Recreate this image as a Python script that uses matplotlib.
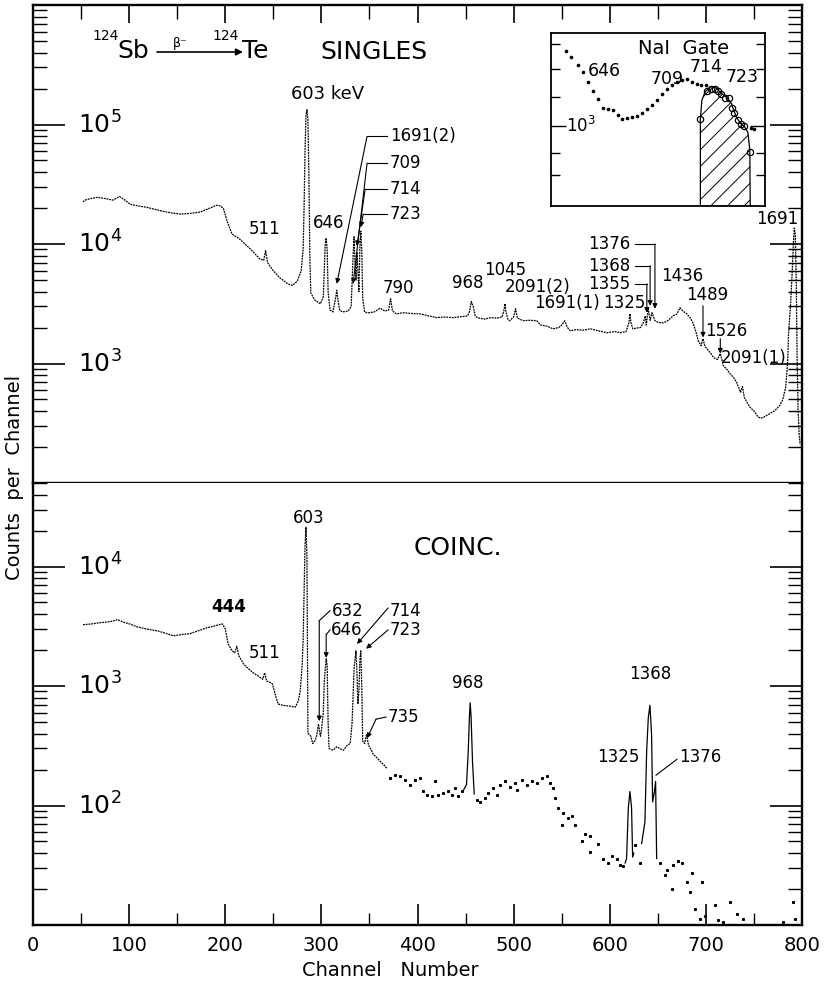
import matplotlib
matplotlib.use("Agg")
import matplotlib.pyplot as plt
from matplotlib.ticker import LogLocator, NullFormatter, FixedLocator

plt.rcParams["font.family"] = "DejaVu Sans"
plt.rcParams["hatch.linewidth"] = 0.7

# singles spectrum (channel, counts per channel)
sing_ch = [52, 54, 60, 67, 75, 83, 88, 90, 95, 101,
           110, 118, 127, 135, 144, 153, 163, 174, 183, 191,
           195, 198, 202, 207, 215, 226, 236, 240, 242, 244,
           250, 257, 265, 270, 275, 279, 281, 282, 283, 284,
           285, 286, 287, 288, 289, 293, 299, 302, 303, 304,
           305, 306, 307, 309, 312, 315, 316, 317, 319, 322,
           328, 331, 333, 334, 335, 336, 337, 338, 339, 340,
           341, 342, 343, 345, 348, 355, 361, 366, 370, 372,
           374, 378, 385, 394, 403, 412, 420, 428, 437, 445,
           452, 454, 456, 458, 460, 462, 470, 476, 483, 488,
           490, 491, 492, 494, 496, 500, 502, 504, 510, 517,
           524, 528, 535, 541, 547, 550, 553, 556, 559, 565,
           572, 580, 588, 597, 605, 611, 617, 620, 621, 622,
           624, 628, 632, 635, 637, 638, 640, 642, 644, 647,
           651, 656, 661, 666, 670, 673, 676, 680, 684, 687,
           690, 692, 695, 697, 699, 701, 705, 708, 712, 715,
           717, 718, 722, 725, 729, 732, 736, 738, 740, 743,
           746, 750, 754, 757, 760, 764, 767, 771, 774, 777,
           780, 783, 785, 786, 788, 790, 791, 792, 793, 794,
           795, 796, 797, 798]
sing_cts = [22500, 23300, 24000, 24600, 24000, 23300, 24500, 25000, 23500, 21500,
            20800, 20300, 19500, 18800, 18200, 17800, 18000, 18500, 19800, 21100,
            20800, 19900, 15500, 12100, 11000, 9100, 7500, 7300, 8800, 7000,
            5960, 5200, 4640, 4500, 4900, 6000, 9000, 20000, 60000, 120000,
            133000, 110000, 40000, 8000, 3900, 3400, 3160, 3600, 6000, 10000,
            11200, 9000, 4000, 2800, 2700, 3600, 4100, 3500, 2800, 2700,
            2750, 3000, 8000, 11500, 7000, 5000, 8500, 6000, 4000, 9000,
            12800, 9000, 3500, 2700, 2650, 2700, 2900, 2750, 2800, 3480,
            2750, 2600, 2660, 2620, 2600, 2500, 2420, 2450, 2420, 2460,
            2500, 2700, 3300, 3000, 2500, 2420, 2350, 2420, 2400, 2450,
            2800, 3160, 2700, 2350, 2280, 2450, 2870, 2400, 2280, 2300,
            2280, 2100, 2050, 1950, 2000, 2100, 2280, 2000, 1880, 1920,
            1900, 1950, 1880, 1810, 1850, 1810, 1850, 2200, 2610, 2200,
            1950, 1980, 2000, 2200, 2500, 2100, 2870, 2300, 2660, 2280,
            2200, 2190, 2300, 2510, 2600, 2930, 2750, 2610, 2400, 2150,
            1800, 1550, 1410, 1610, 1400, 1330, 1220, 1120, 1080, 1210,
            1050, 960, 890, 826, 760, 694, 575, 640, 520, 470,
            430, 400, 360, 348, 355, 370, 383, 400, 420, 447,
            500, 630, 1000, 1780, 3000, 6300, 10000, 13600, 12000, 5000,
            1000, 400, 261, 210]

# coincidence spectrum, continuous part
coin_ch = [52, 60, 70, 80, 88, 95, 101, 108, 118, 129,
           137, 146, 155, 163, 172, 181, 190, 197, 200, 203,
           207, 210, 212, 214, 219, 224, 229, 235, 239, 241,
           243, 246, 249, 252, 255, 260, 266, 273, 276, 278,
           280, 281, 282, 283, 284, 285, 286, 289, 291, 293,
           295, 297, 299, 300, 302, 303, 305, 306, 307, 308,
           312, 316, 319, 323, 327, 330, 332, 334, 336, 337,
           338, 339, 340, 341, 342, 343, 345, 347, 349, 352,
           354, 358, 362, 366, 368]
coin_cts = [3260, 3300, 3390, 3450, 3590, 3400, 3300, 3130, 3000, 2900,
            2780, 2630, 2700, 2740, 2900, 3070, 3200, 3310, 3010, 2250,
            1970, 1900, 2150, 1800, 1530, 1400, 1290, 1200, 1140, 1290,
            1100, 1080, 1040, 850, 706, 690, 680, 667, 750, 907,
            1500, 2390, 6000, 15000, 21300, 12000, 403, 380, 330, 345,
            380, 480, 380, 420, 600, 1100, 1690, 1500, 500, 300,
            290, 310, 300, 290, 320, 330, 500, 1400, 1970, 1300,
            706, 900, 1600, 1970, 1000, 345, 330, 395, 320, 290,
            268, 250, 230, 215, 205]

# coincidence spectrum, scattered points above channel 370
dot_ch = [371.5, 376.7, 381.9, 387.1, 392.3, 397.5, 402.7, 406.2, 409.6, 414.8,
          418.3, 421.7, 426.9, 432.1, 435.6, 439.1, 442.5, 446.0, 461.6, 465.1,
          470.3, 473.8, 479.0, 482.4, 485.9, 491.1, 496.3, 501.5, 503.2, 508.4,
          513.6, 518.8, 524.0, 529.2, 534.4, 537.8, 541.3, 543.0, 546.5, 550.0,
          551.7, 556.9, 560.4, 563.8, 570.8, 574.2, 579.4, 579.4, 588.1, 593.3,
          598.5, 601.9, 607.2, 610.6, 614.1, 626.2, 631.4, 652.3, 657.5, 659.2,
          664.4, 666.2, 671.4, 674.8, 680.0, 683.5, 685.2, 688.7, 693.9, 695.6,
          699.1, 709.5, 713.0, 718.2, 725.1, 732.1, 739.0, 780.6, 791.0, 792.8]
dot_cts = [169, 181, 175, 164, 149, 164, 169, 131, 123, 119,
           159, 123, 127, 131, 123, 140, 119, 131, 112, 108,
           115, 127, 140, 123, 149, 159, 144, 154, 135, 164,
           149, 159, 154, 169, 175, 154, 140, 115, 95, 69,
           86, 78, 81, 69, 50, 58, 56, 41, 48, 36,
           33, 38, 36, 32, 31, 47, 33, 33, 26, 29,
           20, 32, 34, 33, 23, 19, 27, 13.7, 11.3, 23,
           12, 14.6, 11, 10.6, 15.6, 12.4, 11.3, 10.6, 15.6, 11.3]

# coincidence peaks drawn as solid lines
c968_ch = [448, 451, 452.8, 454.0, 454.8, 455.8, 457.2, 459]
c968_cts = [135, 150, 285, 542, 724, 542, 235, 125]
c1325_ch = [616, 617.5, 619.3, 621.0, 622.7, 623.8, 625]
c1325_cts = [33, 36, 95, 131, 95, 37, 40]
c1368_ch = [633.2, 636.6, 638.4, 640.1, 641.8, 643.5, 644.6, 646.3, 647.7, 648.8]
c1368_cts = [48, 73, 285, 542, 690, 393, 107, 128, 159, 36]

# inset: NaI gate spectrum (arbitrary x units)
gate_x = [6.8, 9.5, 12.6, 14.9, 17.2, 19.5, 21.8, 24.2, 26.5, 28.8,
          31.1, 33.4, 35.7, 38.0, 40.3, 42.6, 44.9, 47.2, 49.5, 51.8,
          54.2, 56.5, 58.8, 61.1, 63.4, 65.7, 68.0, 70.3, 72.6, 93.4, 95.0]
gate_y = [1897, 1804, 1689, 1585, 1454, 1352, 1259, 1172, 1155, 1148,
          1106, 1065, 1074, 1084, 1096, 1122, 1155, 1196, 1252, 1314,
          1372, 1421, 1454, 1483, 1496, 1462, 1432, 1421, 1421, 990, 980]
circ_x = [69.8, 73.1, 74.9, 76.5, 78.0, 79.5, 81.5, 83.4, 84.5, 85.7, 87.2, 88.8, 90.3, 92.9]
circ_y = [1065, 1352, 1380, 1380, 1352, 1314, 1277, 1277, 1172, 1122, 1059, 1020, 1000, 806]
win_x = [69.8, 69.8, 70.5, 72.0, 74.5, 77.0, 79.5, 82.0, 84.2, 85.5, 87.0, 88.5, 90.5, 92.0, 92.9, 93.1]
win_y = [508, 1065, 1250, 1340, 1400, 1390, 1330, 1280, 1220, 1140, 1070, 1030, 995, 950, 820, 508]

W, H = 827, 984
fig = plt.figure(figsize=(W / 100, H / 100), dpi=100)


def fx(px):
    return px / W


def fy(py):
    return 1 - py / H


ax1 = fig.add_axes([fx(33), fy(483), (802 - 33) / W, (483 - 5) / H])
ax2 = fig.add_axes([fx(33), fy(925), (802 - 33) / W, (925 - 483) / H])

for ax in (ax1, ax2):
    ax.set_yscale("log")
    ax.set_xlim(0, 800)
    for sp in ax.spines.values():
        sp.set_linewidth(1.7)
    ax.yaxis.set_minor_locator(LogLocator(base=10, subs=range(2, 10), numticks=20))
    ax.yaxis.set_minor_formatter(NullFormatter())
    ax.tick_params(axis="y", which="major", direction="in", length=23, width=1.2,
                   left=True, right=True, labelleft=False)
    ax.tick_params(axis="y", which="minor", direction="in", length=10, width=1.0,
                   left=True, right=True)
    ax.set_xticks(range(0, 801, 100))
    ax.set_xticks(range(50, 800, 100), minor=True)

ax1.set_ylim(100, 1e6)
ax1.set_yticks([1e3, 1e4, 1e5])
ax2.set_ylim(10, 5e4)
ax2.set_yticks([1e2, 1e3, 1e4])
ax2.spines["top"].set_visible(False)

ax1.tick_params(axis="x", which="major", direction="in", length=13, width=1.2,
                top=True, bottom=False, labelbottom=False)
ax1.tick_params(axis="x", which="minor", direction="in", length=10, width=1.0,
                top=True, bottom=False)
ax2.tick_params(axis="x", which="major", direction="in", length=15, width=1.2,
                top=False, bottom=True, labelsize=14, pad=8)
ax2.tick_params(axis="x", which="minor", direction="in", length=9, width=1.0,
                top=False, bottom=True)


def ylab(ax, val, e):
    ax.annotate(r"$\mathregular{10^{%d}}$" % e, xy=(0, val),
                xycoords=("axes fraction", "data"), xytext=(45, -9),
                textcoords="offset pixels", fontsize=18, ha="left", va="baseline")


for e in (3, 4, 5):
    ylab(ax1, 10 ** e, e)
for e in (2, 3, 4):
    ylab(ax2, 10 ** e, e)

dotted = (0, (1.5, 0.7))
ax1.plot(sing_ch, sing_cts, color="k", lw=0.9, ls=dotted)
ax2.plot(coin_ch, coin_cts, color="k", lw=0.9, ls=dotted)
ax2.plot(dot_ch, dot_cts, ls="none", marker="s", ms=1.2, color="k")
for pc, pv in ((c968_ch, c968_cts), (c1325_ch, c1325_cts), (c1368_ch, c1368_cts)):
    ax2.plot(pc, pv, color="k", lw=0.9)


def lead(ax, x0, y0, x1, y1, head=True):
    ax.annotate("", xy=(x1, y1), xytext=(x0, y0),
                arrowprops=dict(arrowstyle="-|>" if head else "-", color="k", lw=0.8,
                                mutation_scale=7, shrinkA=0, shrinkB=0))


def seg(ax, xs, ys):
    ax.plot(xs, ys, color="k", lw=0.8)


fs = 12
# singles labels
ax1.text(306, 181000, "603 keV", fontsize=13, ha="center", va="center")
ax1.text(241, 13300, "511", fontsize=fs, ha="center", va="center")
ax1.text(308, 15000, "646", fontsize=fs, ha="center", va="center")
for txt, yv, cx, tx, ty in (("1691(2)", 79400, 347.5, 316, 4640),
                            ("709", 47300, 347.5, 333, 4640),
                            ("714", 28700, 345.5, 337, 9600),
                            ("723", 17800, 343.5, 341, 13800)):
    ax1.text(371.5, yv, txt, fontsize=fs, ha="left", va="center")
    seg(ax1, [cx, 368.4], [yv, yv])
    lead(ax1, cx, yv, tx, ty)
ax1.text(380, 4300, "790", fontsize=fs, ha="center", va="center")
ax1.text(452, 4730, "968", fontsize=fs, ha="center", va="center")
ax1.text(491, 6070, "1045", fontsize=fs, ha="center", va="center")
ax1.text(525, 4380, "2091(2)", fontsize=fs, ha="center", va="center")
ax1.text(556, 3220, "1691(1)", fontsize=fs, ha="center", va="center")
ax1.text(615, 3220, "1325", fontsize=fs, ha="center", va="center")
for txt, yv, vx, ty in (("1376", 10000, 647, 2870),
                        ("1368", 6560, 642, 3040),
                        ("1355", 4640, 638.6, 2660)):
    ax1.text(621, yv, txt, fontsize=fs, ha="right", va="center")
    seg(ax1, [626.5, vx], [yv, yv])
    lead(ax1, vx, yv, vx, ty)
ax1.text(675, 5410, "1436", fontsize=fs, ha="center", va="center")
ax1.text(701, 3760, "1489", fontsize=fs, ha="center", va="center")
lead(ax1, 697, 3040, 697, 1650)
ax1.text(721, 1880, "1526", fontsize=fs, ha="center", va="center")
lead(ax1, 715, 1610, 715, 1210)
ax1.text(750, 1120, "2091(1)", fontsize=fs, ha="center", va="center")
ax1.text(774, 16200, "1691", fontsize=fs, ha="center", va="center")

# coincidence labels
ax2.text(287, 25300, "603", fontsize=fs, ha="center", va="center")
ax2.text(204, 4620, "444", fontsize=fs, ha="center", va="center", fontweight="bold")
ax2.text(240.5, 1890, "511", fontsize=fs, ha="center", va="center")
ax2.text(311, 4270, "632", fontsize=fs, ha="left", va="center")
seg(ax2, [309, 297.8], [4270, 3520])
lead(ax2, 297.8, 3520, 297.8, 508)
ax2.text(310, 2950, "646", fontsize=fs, ha="left", va="center")
seg(ax2, [309, 305], [2950, 2690])
lead(ax2, 305, 2690, 305, 1720)
ax2.text(371.5, 4270, "714", fontsize=fs, ha="left", va="center")
lead(ax2, 369.4, 4500, 337.1, 2250)
ax2.text(371.5, 2950, "723", fontsize=fs, ha="left", va="center")
lead(ax2, 369.4, 2950, 346.5, 2050)
ax2.text(369.4, 550, "735", fontsize=fs, ha="left", va="center")
seg(ax2, [367.3, 356.9], [550, 528])
lead(ax2, 356.9, 528, 347.5, 366)
ax2.text(452, 1060, "968", fontsize=fs, ha="center", va="center")
ax2.text(642, 1260, "1368", fontsize=fs, ha="center", va="center")
ax2.text(609, 253, "1325", fontsize=fs, ha="center", va="center")
ax2.text(672, 253, "1376", fontsize=fs, ha="left", va="center")
lead(ax2, 670, 244, 648, 179, head=False)

# titles and axis labels
fig.text(fx(92), fy(40), "124", fontsize=10, ha="left", va="baseline")
fig.text(fx(117), fy(58), "Sb", fontsize=18, ha="left", va="baseline")
ax1.annotate("", xy=(fx(243), fy(52)), xytext=(fx(157), fy(52)),
             xycoords="figure fraction", textcoords="figure fraction",
             arrowprops=dict(arrowstyle="-|>", color="k", lw=1.2, mutation_scale=10,
                             shrinkA=0, shrinkB=0))
fig.text(fx(180), fy(47), "β⁻", fontsize=9, ha="center", va="baseline")
fig.text(fx(212), fy(40), "124", fontsize=10, ha="left", va="baseline")
fig.text(fx(242), fy(58), "Te", fontsize=18, ha="left", va="baseline")
fig.text(fx(374), fy(52), "SINGLES", fontsize=18, ha="center", va="center")
fig.text(fx(458), fy(548), "COINC.", fontsize=18, ha="center", va="center")
fig.text(fx(15), fy(477), "Counts  per  Channel", fontsize=14, rotation=90,
         ha="center", va="center")
fig.text(fx(390), fy(970), "Channel   Number", fontsize=14, ha="center", va="center")

# inset
axi = fig.add_axes([fx(551), fy(206), (765 - 551) / W, (206 - 33) / H])
axi.set_yscale("log")
axi.set_xlim(0, 100)
axi.set_ylim(508, 2213)
axi.set_xticks([])
axi.yaxis.set_major_locator(FixedLocator([1000]))
axi.yaxis.set_minor_locator(FixedLocator([660, 800, 1280, 1630, 2020]))
axi.yaxis.set_minor_formatter(NullFormatter())
axi.tick_params(axis="y", which="major", direction="in", length=11, width=1.0,
                left=True, right=True, labelleft=False)
axi.tick_params(axis="y", which="minor", direction="in", length=6.5, width=1.0,
                left=True, right=True)
for sp in axi.spines.values():
    sp.set_linewidth(1.3)
axi.plot(gate_x, gate_y, ls="none", marker="o", ms=1.6, color="k")
axi.fill(win_x, win_y, facecolor="none", edgecolor="k", hatch="//", lw=0.9)
axi.plot(circ_x, circ_y, ls="none", marker="o", ms=4.5, mfc="none", mec="k", mew=0.9)
axi.text(61.8, 1940, "NaI  Gate", fontsize=14, ha="center", va="center")
axi.text(24.9, 1608, "646", fontsize=12.5, ha="center", va="center")
axi.text(54.2, 1496, "709", fontsize=12.5, ha="center", va="center")
axi.text(72.6, 1655, "714", fontsize=12.5, ha="center", va="center")
axi.text(89.5, 1517, "723", fontsize=12.5, ha="center", va="center")
axi.text(7.0, 1000, r"$\mathregular{10^3}$", fontsize=12, ha="left", va="center")

fig.savefig("out.png", dpi=100)
